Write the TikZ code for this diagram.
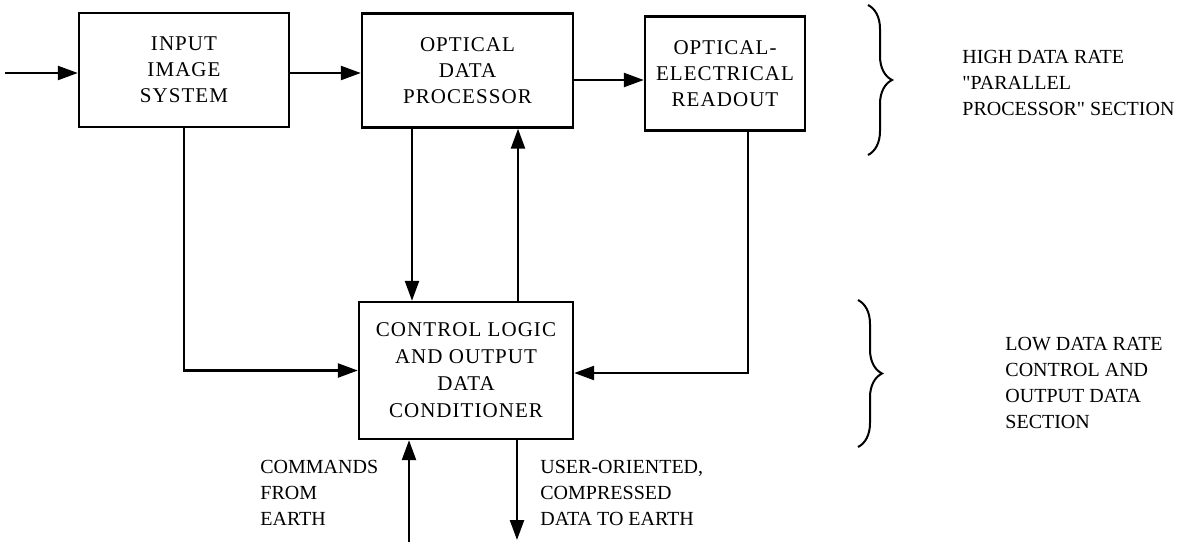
\documentclass[tikz,border=0pt]{standalone}
\usepackage{fontspec}
\setmainfont{Liberation Serif}[LetterSpace=5]
\newfontfamily\notefont{Liberation Serif}
\usetikzlibrary{arrows.meta,decorations.pathreplacing}

\begin{document}
\begin{tikzpicture}[x=0.5pt, y=-0.5pt, font=\fontsize{10.5}{13}\selectfont,
  block/.style={draw, line width=1.2pt, align=center, inner sep=0pt, minimum height=57pt},
  flow/.style={line width=1.2pt, -{Triangle[length=10pt,width=7pt]}},
  note/.style={align=left, anchor=north west, inner sep=0pt, font=\notefont\fontsize{10}{13}\selectfont}]
\useasboundingbox (0,0) rectangle (1178,542);
\node[block, minimum width=105pt] (iis) at (184,70) {INPUT\\IMAGE\\SYSTEM};
\node[block, minimum width=105.5pt] (odp) at (467.5,70.5) {OPTICAL\\DATA\\PROCESSOR};
\node[block, minimum width=80pt] (oer) at (725,73.5) {OPTICAL-\\ELECTRICAL\\READOUT};
\node[block, minimum width=107pt, minimum height=68.5pt, font=\fontsize{10.5}{13.5}\selectfont] (cloc) at (466,370.5) {CONTROL LOGIC\\AND OUTPUT\\DATA\\CONDITIONER};
\coordinate (inA) at (5,73); \coordinate (r2) at (0,80); \coordinate (dn) at (412,0); \coordinate (up) at (518,0); \coordinate (rd) at (748,373);
\coordinate (cmd) at (409,542); \coordinate (outE) at (517,540);
\draw[flow] (inA) -- (inA -| iis.west); \draw[flow] (iis.east |- inA) -- (odp.west |- inA); \draw[flow] (odp.east |- r2) -- (oer.west |- r2);
\draw[flow] (iis.south) |- (cloc.west); \draw[flow] (odp.south -| dn) -- (cloc.north -| dn); \draw[flow] (cloc.north -| up) -- (odp.south -| up);
\draw[flow] (oer.south -| rd) |- (cloc.east |- rd);
\draw[flow] (cmd) -- (cloc.south -| cmd); \draw[flow] (cloc.south -| outE) -- (outE);
\draw[line width=1pt, decorate, decoration={brace, amplitude=12pt}] (868,5) -- (868,155);
\draw[line width=1pt, decorate, decoration={brace, amplitude=12pt}] (858,300) -- (858,447);
\node[note] (hi) at (962,50) {HIGH DATA RATE\\\symbol{34}PARALLEL\\PROCESSOR\symbol{34} SECTION};
\node[note] (lo) at (1005,337) {LOW DATA RATE\\CONTROL AND\\OUTPUT DATA\\SECTION};
\node[note] (cm) at (260,460) {COMMANDS\\FROM\\EARTH};
\node[note] (us) at (540,460) {USER-ORIENTED,\\COMPRESSED\\DATA TO EARTH};
\end{tikzpicture}
\end{document}
